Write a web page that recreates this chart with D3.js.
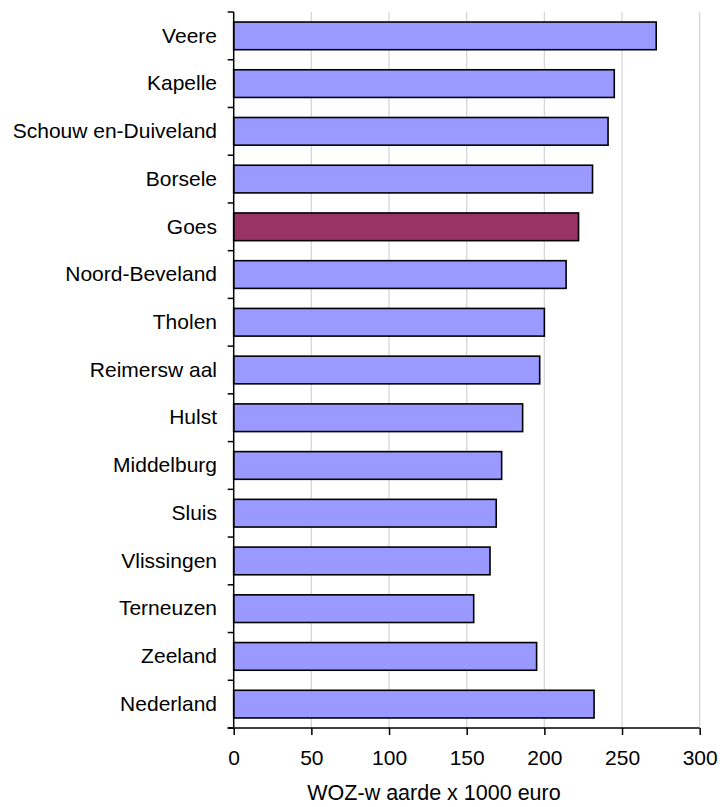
<!DOCTYPE html>
<html>
<head>
<meta charset="utf-8">
<script src="https://cdn.jsdelivr.net/npm/d3@7"></script>
<style>
  body { margin: 0; background: #fff; }
  svg { display: block; font-family: "Liberation Sans", Arial, sans-serif; }
  .yAxis path, .yAxis line { display: none; }
  .xAxis path { display: none; }
</style>
</head>
<body>
<div class="graph"></div>
<script>
// gemeenten, van boven naar beneden
var gemeenten = ['Veere', 'Kapelle', 'Schouw en-Duiveland', 'Borsele', 'Goes', 'Noord-Beveland',
  'Tholen', 'Reimersw aal', 'Hulst', 'Middelburg', 'Sluis', 'Vlissingen', 'Terneuzen',
  'Zeeland', 'Nederland'];
// gemiddelde WOZ-waarde x 1000 euro
var woz = [272, 245, 241, 231, 222, 214, 200, 197, 186, 172.5, 169, 165, 154.5, 195, 232];
var xTicks = [0, 50, 100, 150, 200, 250, 300];
var highlight = 'Goes';

var data = gemeenten.map(function(g, i) {
  return {name: g, value: woz[i]};
});

var size = {width: 720, height: 807};
var plot = {left: 233.7, right: 699.7, top: 12, bottom: 728};

var svg = d3.select('.graph').append('svg')
  .attr('width', size.width)
  .attr('height', size.height);

var xScale = d3.scaleLinear().domain([0, 300]).range([plot.left, plot.right]);
var yScale = d3.scaleBand().domain(gemeenten).range([plot.top, plot.bottom])
  .paddingInner(0.42).paddingOuter(0.21);

// gridlines
svg.append('g').selectAll('line').data(xTicks.slice(1)).enter().append('line')
  .attr('x1', function(d) { return xScale(d); })
  .attr('x2', function(d) { return xScale(d); })
  .attr('y1', plot.top)
  .attr('y2', plot.bottom)
  .attr('stroke', '#d6d6d6')
  .attr('stroke-width', 1.3);

// bars
svg.append('g').selectAll('rect').data(data).enter().append('rect')
  .attr('x', xScale(0))
  .attr('y', function(d) { return yScale(d.name); })
  .attr('width', function(d) { return xScale(d.value) - xScale(0); })
  .attr('height', yScale.bandwidth())
  .attr('fill', function(d) { return d.name === highlight ? '#993366' : '#9999ff'; })
  .attr('stroke', '#000')
  .attr('stroke-width', 1.6);

// x axis
var xAxis = d3.axisBottom(xScale).tickValues(xTicks).tickSize(7).tickPadding(15);
var gx = svg.append('g').attr('class', 'xAxis')
  .attr('transform', 'translate(0,' + plot.bottom + ')')
  .call(xAxis);
gx.selectAll('line').attr('stroke', '#000').attr('stroke-width', 1.5);
gx.selectAll('text').attr('fill', '#000').style('font-size', '21px');

// y axis labels
var yAxis = d3.axisLeft(yScale).tickSize(0).tickPadding(plot.left - 217);
var gy = svg.append('g').attr('class', 'yAxis')
  .attr('transform', 'translate(' + plot.left + ',0)')
  .call(yAxis);
gy.selectAll('text').attr('fill', '#000').style('font-size', '21px');

// y tick marks between categories
var bounds = gemeenten.map(function(g) {
  return yScale(g) - yScale.step() * yScale.paddingInner() / 2;
});
bounds.push(plot.bottom);
svg.append('g').selectAll('line').data(bounds).enter().append('line')
  .attr('x1', plot.left - 6)
  .attr('x2', plot.left)
  .attr('y1', function(d) { return d; })
  .attr('y2', function(d) { return d; })
  .attr('stroke', '#000')
  .attr('stroke-width', 1.5);

// axis lines
svg.append('line')
  .attr('x1', plot.left).attr('x2', plot.left)
  .attr('y1', plot.top).attr('y2', plot.bottom)
  .attr('stroke', '#000').attr('stroke-width', 1.5);
svg.append('line')
  .attr('x1', plot.left - 6).attr('x2', plot.right)
  .attr('y1', plot.bottom).attr('y2', plot.bottom)
  .attr('stroke', '#000').attr('stroke-width', 1.5);

// title
svg.append('text')
  .attr('x', 434)
  .attr('y', 800)
  .attr('text-anchor', 'middle')
  .style('font-size', '21.5px')
  .attr('fill', '#000')
  .text('WOZ-w aarde x 1000 euro');
</script>
</body>
</html>
